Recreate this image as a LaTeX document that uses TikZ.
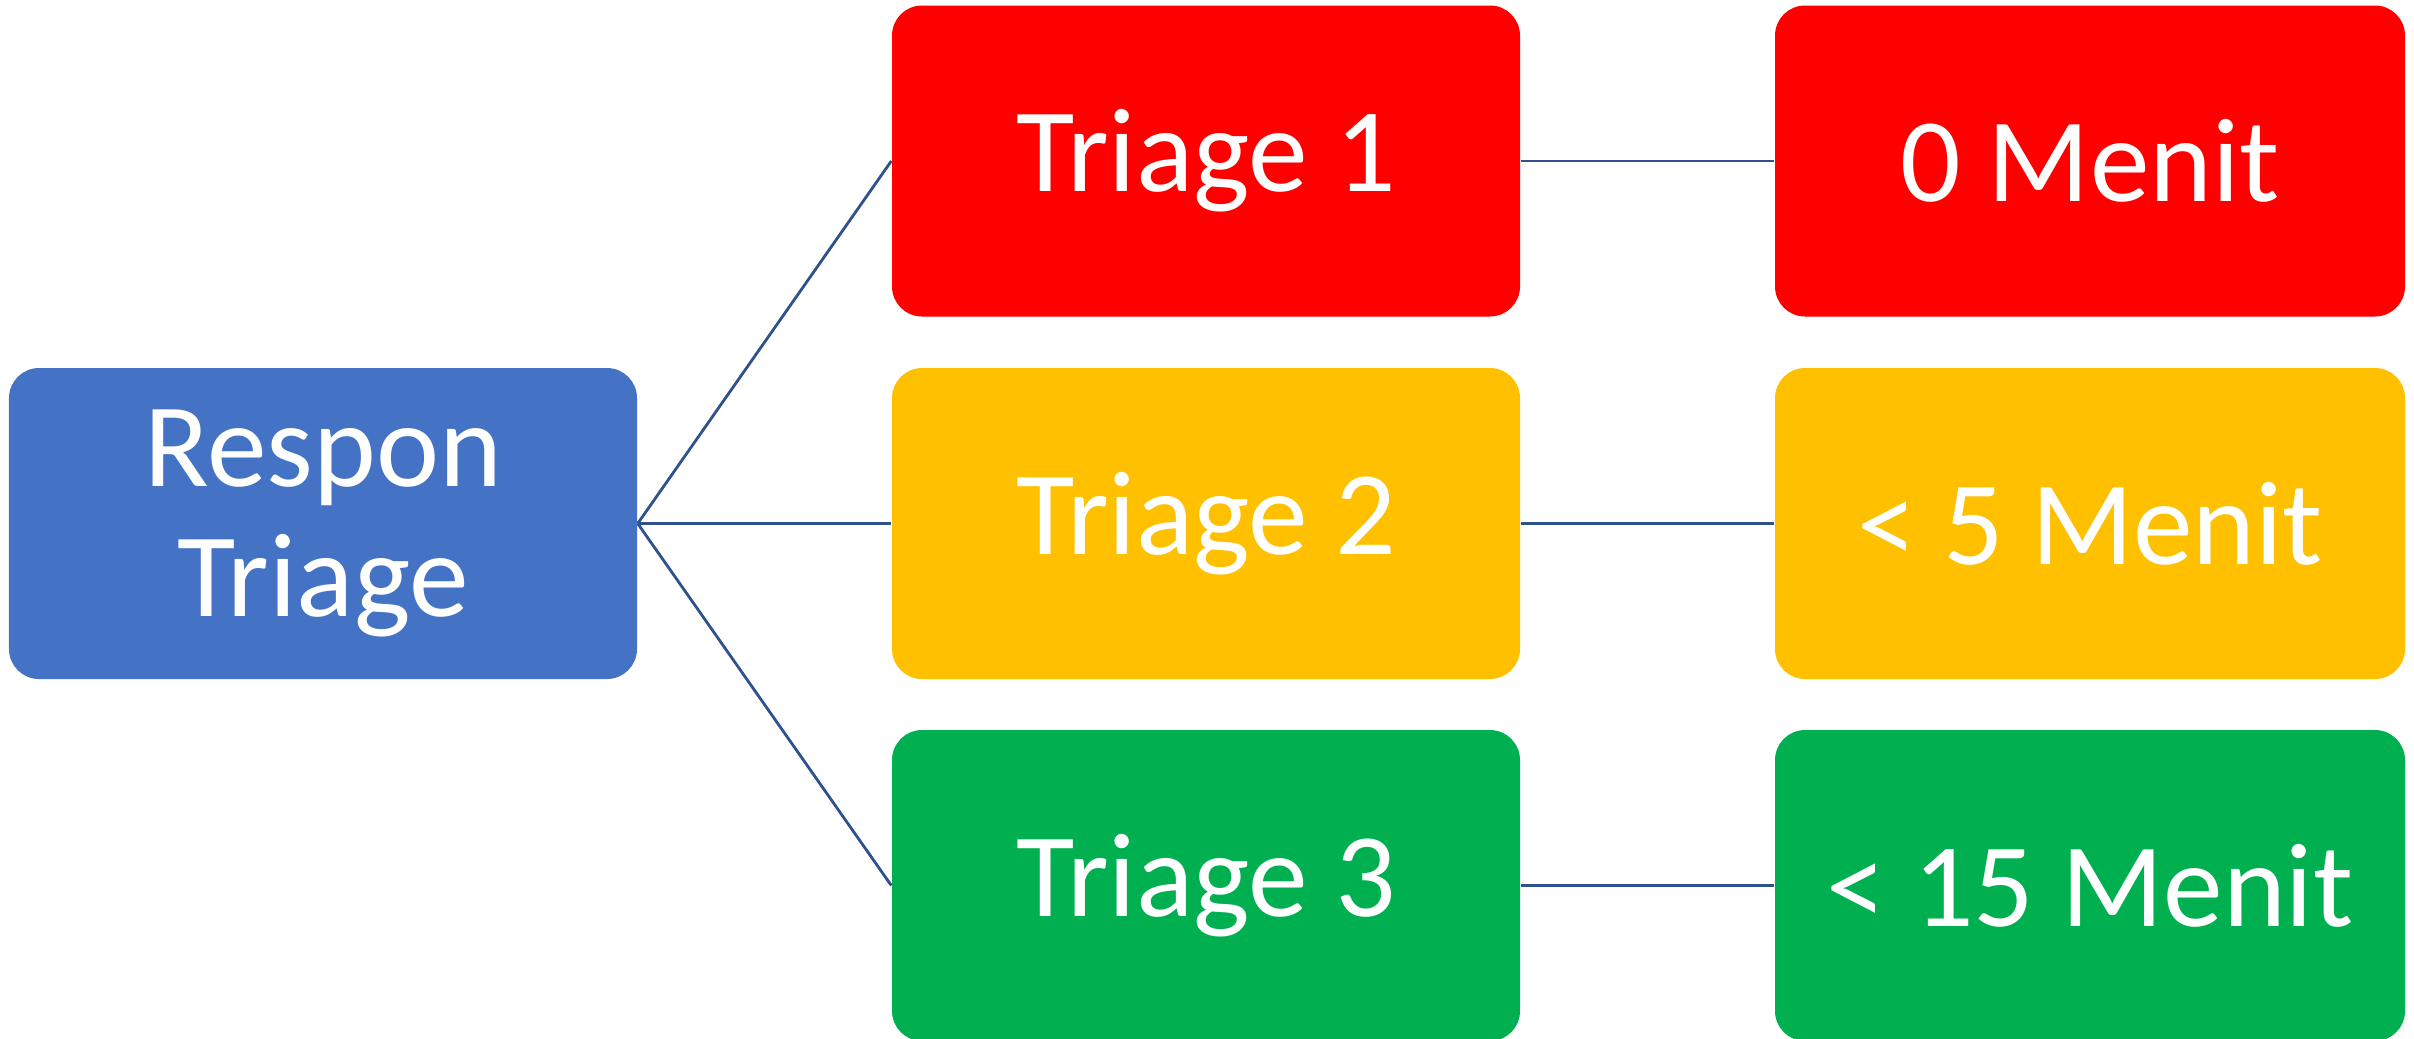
\documentclass[tikz,border=0pt]{standalone}
\usepackage{fontspec}
\setmainfont{Carlito}
\usepackage{tikz}
\usetikzlibrary{positioning}
\usepackage{xcolor}
\definecolor{resblue}{HTML}{4472C4}
\definecolor{lvlred}{HTML}{FF0000}
\definecolor{lvlyellow}{HTML}{FFC000}
\definecolor{lvlgreen}{HTML}{00B050}
\definecolor{linkblue}{HTML}{2F528F}

\begin{document}
\begin{tikzpicture}[
        box/.style={rectangle, rounded corners=0.3cm, minimum width=6.28cm, minimum height=3.11cm,
            text=white, align=center, inner sep=0pt, font=\fontsize{34}{37}\selectfont},
        link/.style={draw=linkblue, line width=0.8pt}
    ]
        \useasboundingbox (0,0) rectangle (24.14,-10.38);
        \node[box, fill=resblue] (resp) at (3.23,-5.235) {Respon\\Triage};
        \node[box, fill=lvlred] (tri1) at (12.06,-1.61) {Triage 1};
        \node[box, fill=lvlyellow] (tri2) at (12.06,-5.235) {Triage 2};
        \node[box, fill=lvlgreen] (tri3) at (12.06,-8.855) {Triage 3};
        \node[box, fill=lvlred, minimum width=6.30cm] (time1) at (20.90,-1.61) {0 Menit};
        \node[box, fill=lvlyellow, minimum width=6.30cm] (time2) at (20.90,-5.235) {< 5 Menit};
        \node[box, fill=lvlgreen, minimum width=6.30cm] (time3) at (20.90,-8.855) {< 15 Menit};
        \draw[link] (resp.east) -- (tri1.west);
        \draw[link] (resp.east) -- (tri2.west);
        \draw[link] (resp.east) -- (tri3.west);
        \draw[link] (tri1.east) -- (time1.west);
        \draw[link] (tri2.east) -- (time2.west);
        \draw[link] (tri3.east) -- (time3.west);
    \end{tikzpicture}
\end{document}
